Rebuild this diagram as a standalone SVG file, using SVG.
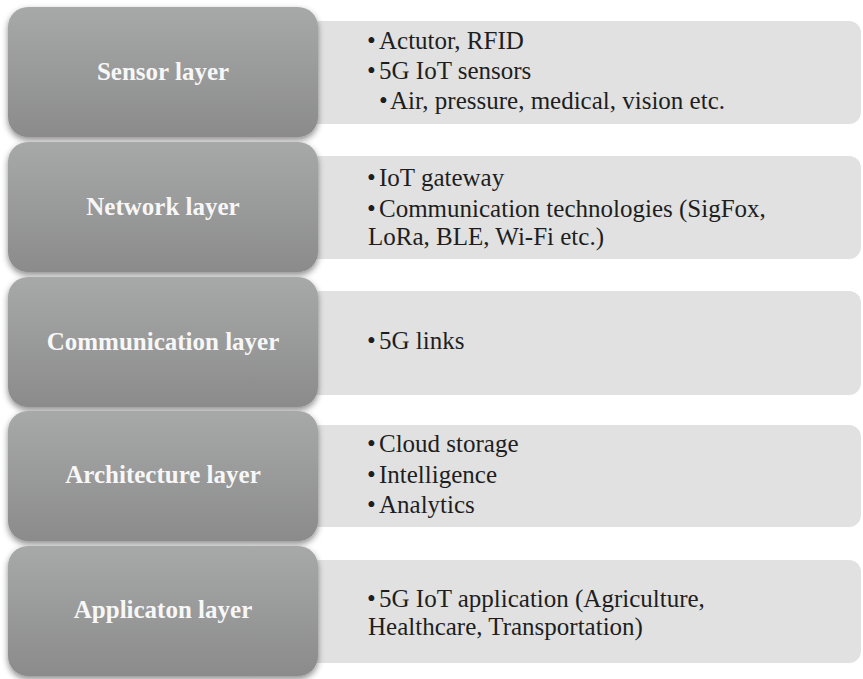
<svg xmlns="http://www.w3.org/2000/svg" width="863" height="679" viewBox="0 0 863 679">
  <style>
    .panel { fill: #e1e1e1; }
    .layer { fill: url(#layerGrad); filter: url(#shadow); }
    .lbl { font-family: "Liberation Serif", "Times New Roman", serif; font-weight: bold; font-size: 25px; fill: #f7f7f7; text-anchor: middle; }
    .txt { font-family: "Liberation Serif", "Times New Roman", serif; font-size: 25px; fill: #1e1e1e; }
  </style>
  <defs>
    <linearGradient id="layerGrad" x1="0" y1="0" x2="0" y2="1">
      <stop offset="0" stop-color="#a7a9a8"/>
      <stop offset="1" stop-color="#8b8b8b"/>
    </linearGradient>
    <filter id="shadow" x="-10%" y="-10%" width="120%" height="130%">
      <feDropShadow dx="0" dy="3" stdDeviation="3" flood-color="#000" flood-opacity="0.45"/>
    </filter>
  </defs>
  <rect width="863" height="679" fill="#ffffff"/>

  <g id="panels">
    <rect class="panel" x="290" y="21" width="571" height="103" rx="12"/>
    <rect class="panel" x="290" y="156" width="571" height="103" rx="12"/>
    <rect class="panel" x="290" y="291" width="571" height="104" rx="12"/>
    <rect class="panel" x="290" y="425" width="571" height="102" rx="12"/>
    <rect class="panel" x="290" y="560" width="571" height="103" rx="12"/>
  </g>

  <g id="sensor-layer">
    <rect class="layer" x="8" y="7" width="310" height="130" rx="20"/>
    <text class="lbl" x="163" y="80">Sensor layer</text>
  </g>
  <g id="sensor-details">
    <text class="txt" x="367" y="49">•</text><text class="txt" x="379" y="49">Actutor, RFID</text>
    <text class="txt" x="367" y="79">•</text><text class="txt" x="379" y="79">5G IoT sensors</text>
    <text class="txt" x="379" y="109">•</text><text class="txt" x="390" y="109">Air, pressure, medical, vision etc.</text>
  </g>

  <g id="network-layer">
    <rect class="layer" x="8" y="142" width="310" height="130" rx="20"/>
    <text class="lbl" x="163" y="214.5">Network layer</text>
  </g>
  <g id="network-details">
    <text class="txt" x="367" y="185.5">•</text><text class="txt" x="379" y="185.5">IoT gateway</text>
    <text class="txt" x="367" y="216.5">•</text><text class="txt" x="379" y="216.5">Communication technologies (SigFox,</text>
    <text class="txt" x="368" y="245">LoRa, BLE, Wi-Fi etc.)</text>
  </g>

  <g id="communication-layer">
    <rect class="layer" x="8" y="277" width="310" height="130" rx="20"/>
    <text class="lbl" x="163" y="349.5">Communication layer</text>
  </g>
  <g id="communication-details">
    <text class="txt" x="367" y="349">•</text><text class="txt" x="379" y="349">5G links</text>
  </g>

  <g id="architecture-layer">
    <rect class="layer" x="8" y="411" width="310" height="130" rx="20"/>
    <text class="lbl" x="163" y="483">Architecture layer</text>
  </g>
  <g id="architecture-details">
    <text class="txt" x="367" y="452">•</text><text class="txt" x="379" y="452">Cloud storage</text>
    <text class="txt" x="367" y="483">•</text><text class="txt" x="379" y="483">Intelligence</text>
    <text class="txt" x="367" y="513">•</text><text class="txt" x="379" y="513">Analytics</text>
  </g>

  <g id="application-layer">
    <rect class="layer" x="8" y="546" width="310" height="130" rx="20"/>
    <text class="lbl" x="163" y="618">Applicaton layer</text>
  </g>
  <g id="application-details">
    <text class="txt" x="367" y="607">•</text><text class="txt" x="379" y="607">5G IoT application (Agriculture,</text>
    <text class="txt" x="368" y="635">Healthcare, Transportation)</text>
  </g>

  <g id="connectors"></g>
</svg>
